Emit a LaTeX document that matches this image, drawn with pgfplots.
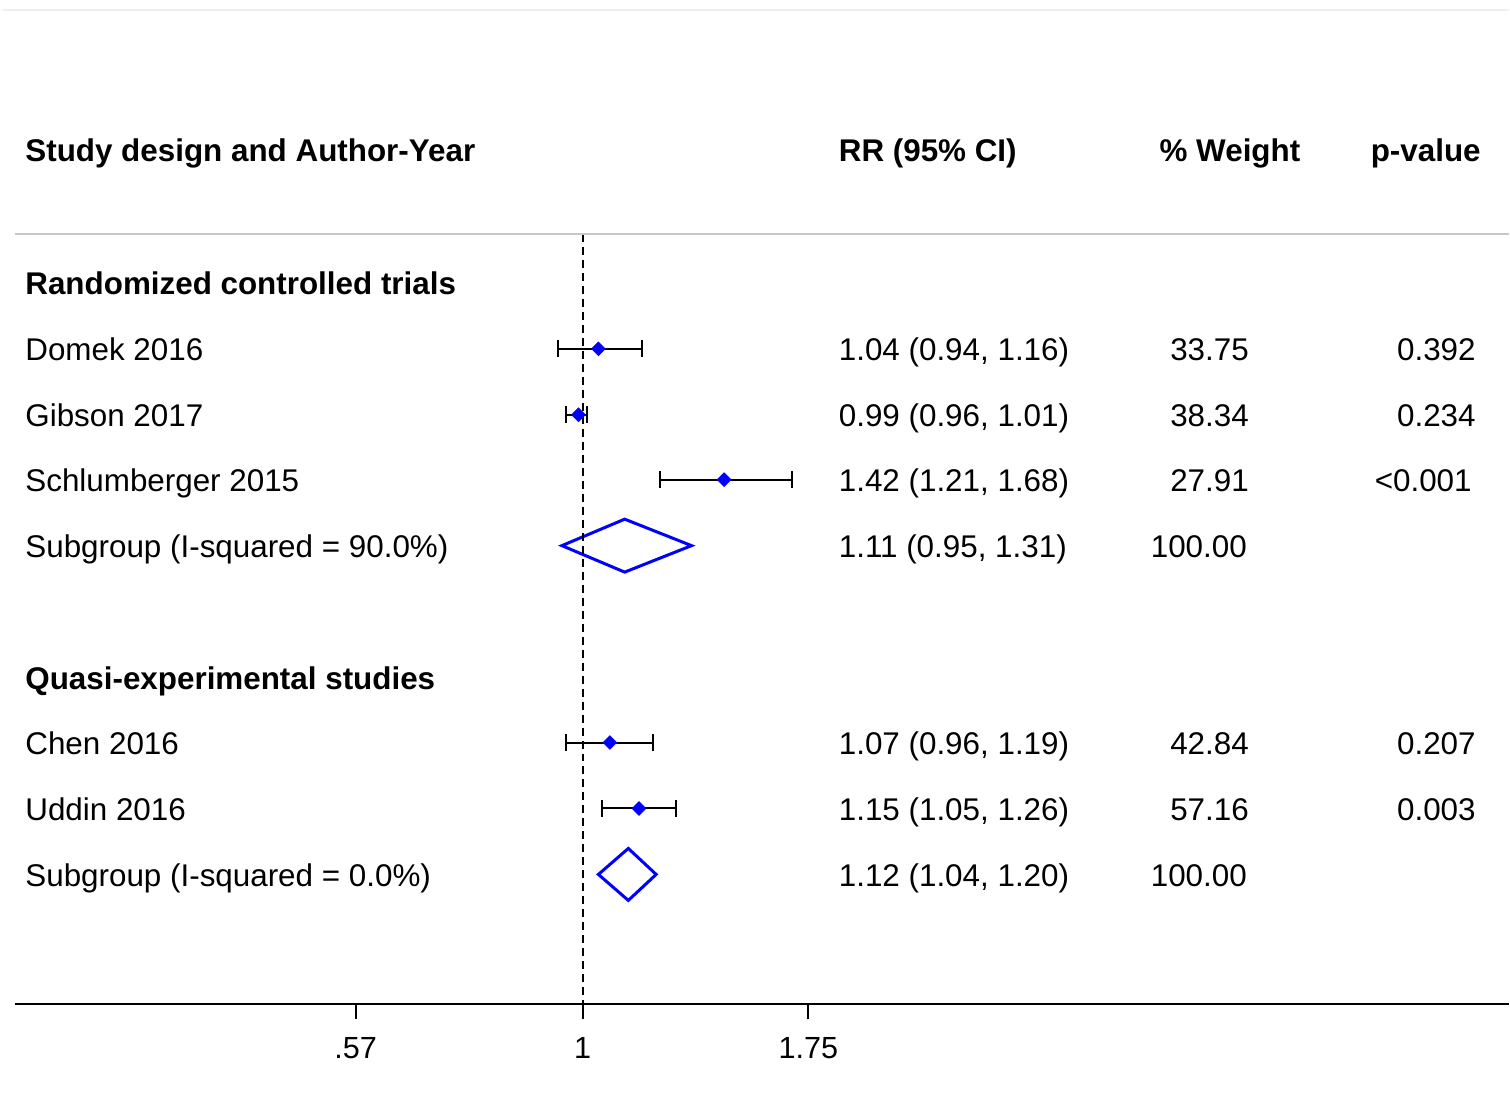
\documentclass[border=0pt]{standalone}
\usepackage{fontspec}
\setmainfont{Liberation Sans}
\usepackage{pgfplots}
\pgfplotsset{compat=1.18}
\definecolor{lightline}{RGB}{238,238,238}
\definecolor{sepgray}{RGB}{200,200,200}
\definecolor{fpblue}{RGB}{0,0,255}
\begin{document}
\fontsize{15.7}{18}\selectfont
\begin{tikzpicture}
\tikzset{txt/.style={inner sep=0pt, font=\fontsize{15.7}{18}\selectfont},
         bt/.style={inner sep=0pt, font=\fontsize{15.7}{18}\selectfont\bfseries}}
\begin{axis}[
  at={(7.5pt,-502.5pt)}, anchor=south west,
  scale only axis, width=747.5pt, height=497.5pt,
  xmode=log, xmin=0.2450, xmax=9.931, ymin=-1005, ymax=-10,
  axis x line=bottom, axis y line=none,
  x axis line style={-, line width=1pt},
  xtick={0.57,1,1.75}, xticklabels={\mbox{.57},\mbox{1},\mbox{1.75}},
  minor xtick={},
  tick align=outside, major tick length=7.5pt,
  xtick style={black, line width=1pt},
  xticklabel style={font=\fontsize{15.3}{18}\selectfont, yshift=-3.5pt},
  clip=false,
]
% confidence intervals
\addplot[black, line width=1pt, mark=|, mark size=4.25pt, mark options={solid, line width=1pt}] coordinates {(0.94,-349)(1.16,-349)};
\addplot[black, line width=1pt, mark=|, mark size=4.25pt, mark options={solid, line width=1pt}] coordinates {(0.96,-415)(1.01,-415)};
\addplot[black, line width=1pt, mark=|, mark size=4.25pt, mark options={solid, line width=1pt}] coordinates {(1.21,-480)(1.68,-480)};
\addplot[black, line width=1pt, mark=|, mark size=4.25pt, mark options={solid, line width=1pt}] coordinates {(0.96,-743)(1.19,-743)};
\addplot[black, line width=1pt, mark=|, mark size=4.25pt, mark options={solid, line width=1pt}] coordinates {(1.05,-809)(1.26,-809)};
% pooled diamonds
\addplot[fpblue, line width=1.5pt, line join=miter, mark=none] coordinates {(0.95,-546)(1.11,-519.5)(1.31,-546)(1.11,-572.5)} --cycle;
\addplot[fpblue, line width=1.5pt, line join=miter, mark=none] coordinates {(1.04,-875)(1.12,-849)(1.20,-875)(1.12,-901)} --cycle;
% null line
\addplot[black, line width=1pt, dash pattern=on 4pt off 2.5pt, mark=none] coordinates {(1,-234)(1,-1005)};
% point estimates
\addplot[only marks, fpblue, mark=square*, mark size=2.4pt, mark options={fpblue, rotate=45}] coordinates {(1.04,-349)(0.99,-415)(1.42,-480)(1.07,-743)(1.15,-809)};
\end{axis}
\begin{scope}[x=0.5pt, y=-0.5pt]
\path (0,0) rectangle (1510,1112);
\draw[lightline, line width=1pt] (3,10.5) -- (1510,10.5);
\draw[sepgray, line width=1pt] (15,234) -- (1510,234);
% headers
\node[bt, anchor=base west] at (25,162) {Study design and Author-Year};
\node[bt, anchor=base west] at (839,162) {RR (95\% CI)};
\node[bt, anchor=base west] at (1160,162) {\% Weight};
\node[bt, anchor=base east] at (1482,162) {p-value};
% group 1
\node[bt, anchor=base west] at (25,295) {Randomized controlled trials};
\node[txt, anchor=base west] at (25,361) {Domek 2016};
\node[txt, anchor=base west] at (839,361) {1.04 (0.94, 1.16)};
\node[txt, anchor=base east] at (1250,361) {33.75};
\node[txt, anchor=base east] at (1477,361) {0.392};
\node[txt, anchor=base west] at (25,427) {Gibson 2017};
\node[txt, anchor=base west] at (839,427) {0.99 (0.96, 1.01)};
\node[txt, anchor=base east] at (1250,427) {38.34};
\node[txt, anchor=base east] at (1477,427) {0.234};
\node[txt, anchor=base west] at (25,492) {Schlumberger 2015};
\node[txt, anchor=base west] at (839,492) {1.42 (1.21, 1.68)};
\node[txt, anchor=base east] at (1250,492) {27.91};
\node[txt, anchor=base east] at (1473,492) {<0.001};
\node[txt, anchor=base west] at (25,558) {Subgroup (I-squared = 90.0\%)};
\node[txt, anchor=base west] at (839,558) {1.11 (0.95, 1.31)};
\node[txt, anchor=base east] at (1248,558) {100.00};
% group 2
\node[bt, anchor=base west] at (25,690) {Quasi-experimental studies};
\node[txt, anchor=base west] at (25,755) {Chen 2016};
\node[txt, anchor=base west] at (839,755) {1.07 (0.96, 1.19)};
\node[txt, anchor=base east] at (1250,755) {42.84};
\node[txt, anchor=base east] at (1477,755) {0.207};
\node[txt, anchor=base west] at (25,821) {Uddin 2016};
\node[txt, anchor=base west] at (839,821) {1.15 (1.05, 1.26)};
\node[txt, anchor=base east] at (1250,821) {57.16};
\node[txt, anchor=base east] at (1477,821) {0.003};
\node[txt, anchor=base west] at (25,887) {Subgroup (I-squared = 0.0\%)};
\node[txt, anchor=base west] at (839,887) {1.12 (1.04, 1.20)};
\node[txt, anchor=base east] at (1248,887) {100.00};
\end{scope}
\end{tikzpicture}
\end{document}
